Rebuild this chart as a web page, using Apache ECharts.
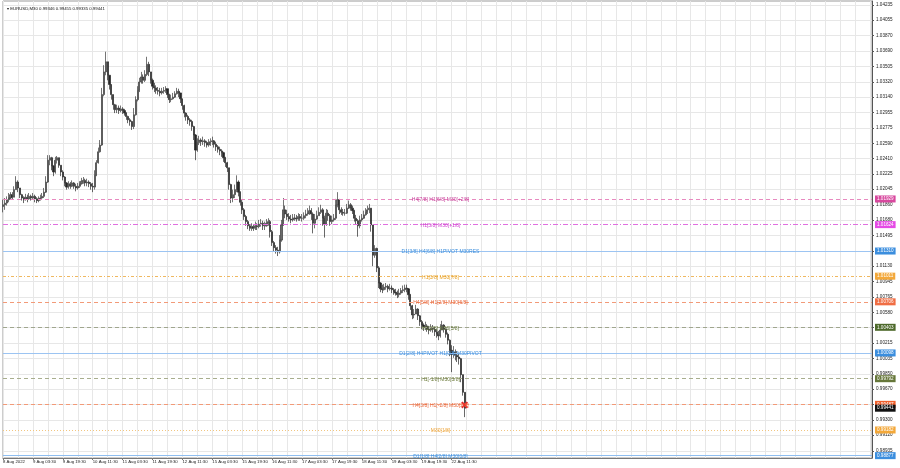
<!DOCTYPE html>
<html><head><meta charset="utf-8">
<script src="https://cdn.jsdelivr.net/npm/echarts@6/dist/echarts.min.js"></script>
<style>html,body{margin:0;padding:0;background:#fff}#c{width:900px;height:468px}</style>
</head><body><div id="c"></div>
<script>
// ---------- data ----------
const symbolName = 'EURUSD,M30';
const lastBarOHLC = [0.99346, 0.99455, 0.99335, 0.99441];
const xTickLabels = ['8 Aug 2022','9 Aug 03:30','9 Aug 19:30','10 Aug 11:30','11 Aug 03:30','11 Aug 19:30','12 Aug 11:30','15 Aug 03:30','15 Aug 19:30','16 Aug 11:30','17 Aug 03:30','17 Aug 19:30','18 Aug 11:30','19 Aug 03:30','19 Aug 19:30','22 Aug 11:30'];
const yTickValues = [1.04235,1.04055,1.03870,1.03690,1.03505,1.03320,1.03140,1.02955,1.02775,1.02590,1.02410,1.02225,1.02045,1.01860,1.01680,1.01495,1.01310,1.01130,1.00945,1.00765,1.00580,1.00400,1.00215,1.00035,0.99850,0.99670,0.99485,0.99300,0.99120,0.98935];
const firstOpen = 1.0184;
const closes = [
1.0186,1.0188,1.0192,1.0194,1.0198,1.0195,1.0204,1.0213,1.0206,1.0198,
1.0194,1.0192,1.0195,1.0193,1.0196,1.0194,1.0196,1.0193,1.0191,1.0193,
1.0194,1.0196,1.0201,1.0213,1.0239,1.0242,1.0232,1.0225,1.0239,1.0242,
1.0233,1.0225,1.0219,1.0212,1.0207,1.0211,1.0208,1.0212,1.0208,1.0206,
1.0208,1.0211,1.0214,1.0215,1.0212,1.0213,1.0211,1.0208,1.0207,1.0221,
1.0236,1.0249,1.0257,1.0317,1.0344,1.0356,1.0340,1.0329,1.0317,1.0305,
1.0299,1.0301,1.0298,1.0300,1.0298,1.0295,1.0291,1.0287,1.0285,1.0279,
1.0293,1.0311,1.0322,1.0332,1.0338,1.0334,1.0341,1.0353,1.0344,1.0334,
1.0327,1.0325,1.0322,1.0321,1.0319,1.0321,1.0322,1.0324,1.0317,1.0311,
1.0312,1.0314,1.0318,1.0321,1.0319,1.0312,1.0304,1.0295,1.0291,1.0287,
1.0285,1.0279,1.0269,1.0251,1.0260,1.0263,1.0261,1.0262,1.0260,1.0257,
1.0260,1.0261,1.0262,1.0258,1.0255,1.0252,1.0250,1.0248,1.0242,1.0236,
1.0230,1.0210,1.0194,1.0198,1.0204,1.0213,1.0201,1.0189,1.0180,1.0172,
1.0166,1.0161,1.0158,1.0160,1.0158,1.0161,1.0160,1.0163,1.0164,1.0161,
1.0161,1.0164,1.0166,1.0154,1.0141,1.0135,1.0132,1.0130,1.0144,1.0162,
1.0180,1.0175,1.0172,1.0169,1.0168,1.0170,1.0170,1.0169,1.0172,1.0170,
1.0170,1.0173,1.0175,1.0176,1.0179,1.0175,1.0164,1.0169,1.0173,1.0177,
1.0180,1.0170,1.0163,1.0176,1.0173,1.0166,1.0168,1.0170,1.0186,1.0192,
1.0180,1.0177,1.0176,1.0176,1.0182,1.0186,1.0182,1.0179,1.0170,1.0167,
1.0161,1.0168,1.0170,1.0174,1.0177,1.0180,1.0182,1.0162,1.0126,1.0134,
1.0111,1.0093,1.0086,1.0085,1.0088,1.0089,1.0086,1.0087,1.0085,1.0082,
1.0081,1.0079,1.0081,1.0084,1.0085,1.0087,1.0086,1.0079,1.0066,1.0055,
1.0056,1.0062,1.0054,1.0047,1.0043,1.0041,1.0042,1.0038,1.0037,1.0039,
1.0038,1.0035,1.0032,1.0030,1.0037,1.0043,1.0038,1.0032,1.0025,1.0013,
1.0008,1.0011,1.0007,1.0005,1.0003,0.9984,0.9963,0.99441];
const highs = [
1.0192,1.0194,1.0196,1.0200,1.0201,1.0201,1.0208,1.0220,1.0215,1.0206,
1.0199,1.0196,1.0199,1.0198,1.0200,1.0198,1.0200,1.0198,1.0195,1.0196,
1.0198,1.0200,1.0206,1.0220,1.0245,1.0245,1.0243,1.0233,1.0243,1.0244,
1.0242,1.0233,1.0227,1.0220,1.0213,1.0214,1.0213,1.0215,1.0213,1.0211,
1.0212,1.0214,1.0218,1.0219,1.0217,1.0217,1.0215,1.0213,1.0212,1.0227,
1.0239,1.0254,1.0263,1.0325,1.0352,1.0368,1.0353,1.0339,1.0327,1.0317,
1.0306,1.0305,1.0304,1.0304,1.0302,1.0300,1.0296,1.0292,1.0289,1.0286,
1.0301,1.0315,1.0327,1.0337,1.0344,1.0341,1.0346,1.0362,1.0356,1.0344,
1.0336,1.0331,1.0328,1.0326,1.0325,1.0325,1.0326,1.0327,1.0324,1.0318,
1.0317,1.0319,1.0321,1.0325,1.0324,1.0319,1.0312,1.0305,1.0296,1.0293,
1.0289,1.0287,1.0280,1.0270,1.0265,1.0268,1.0265,1.0267,1.0264,1.0262,
1.0264,1.0265,1.0267,1.0263,1.0261,1.0257,1.0255,1.0252,1.0249,1.0243,
1.0237,1.0230,1.0211,1.0204,1.0210,1.0221,1.0215,1.0202,1.0192,1.0182,
1.0174,1.0168,1.0163,1.0164,1.0163,1.0166,1.0164,1.0168,1.0169,1.0167,
1.0166,1.0169,1.0170,1.0168,1.0156,1.0143,1.0138,1.0136,1.0150,1.0168,
1.0194,1.0185,1.0180,1.0176,1.0174,1.0175,1.0175,1.0174,1.0176,1.0175,
1.0175,1.0177,1.0180,1.0182,1.0185,1.0182,1.0177,1.0175,1.0179,1.0183,
1.0186,1.0182,1.0173,1.0181,1.0180,1.0175,1.0173,1.0175,1.0193,1.0201,
1.0193,1.0183,1.0181,1.0181,1.0187,1.0191,1.0188,1.0185,1.0180,1.0174,
1.0169,1.0173,1.0175,1.0179,1.0182,1.0185,1.0187,1.0182,1.0162,1.0138,
1.0135,1.0113,1.0094,1.0091,1.0092,1.0093,1.0091,1.0092,1.0090,1.0087,
1.0086,1.0084,1.0086,1.0087,1.0090,1.0091,1.0091,1.0087,1.0080,1.0067,
1.0062,1.0067,1.0063,1.0055,1.0049,1.0045,1.0047,1.0044,1.0042,1.0044,
1.0043,1.0041,1.0038,1.0036,1.0044,1.0048,1.0044,1.0039,1.0034,1.0026,
1.0019,1.0018,1.0014,1.0012,1.0010,1.0004,0.9984,0.99455];
const lows = [
1.0177,1.0180,1.0185,1.0189,1.0192,1.0192,1.0195,1.0204,1.0201,1.0194,
1.0191,1.0188,1.0191,1.0189,1.0192,1.0191,1.0193,1.0189,1.0188,1.0189,
1.0191,1.0193,1.0194,1.0200,1.0212,1.0233,1.0227,1.0220,1.0223,1.0235,
1.0230,1.0220,1.0215,1.0208,1.0204,1.0205,1.0205,1.0207,1.0205,1.0202,
1.0204,1.0206,1.0210,1.0211,1.0208,1.0208,1.0207,1.0204,1.0201,1.0204,
1.0220,1.0235,1.0248,1.0256,1.0315,1.0340,1.0334,1.0323,1.0311,1.0299,
1.0295,1.0295,1.0294,1.0296,1.0294,1.0292,1.0287,1.0283,1.0280,1.0275,
1.0276,1.0292,1.0309,1.0320,1.0330,1.0330,1.0332,1.0339,1.0339,1.0330,
1.0323,1.0320,1.0318,1.0317,1.0315,1.0317,1.0318,1.0319,1.0313,1.0307,
1.0308,1.0311,1.0313,1.0317,1.0314,1.0307,1.0299,1.0290,1.0286,1.0282,
1.0280,1.0274,1.0263,1.0239,1.0249,1.0257,1.0256,1.0257,1.0255,1.0254,
1.0255,1.0256,1.0257,1.0254,1.0250,1.0248,1.0245,1.0243,1.0237,1.0231,
1.0225,1.0204,1.0188,1.0189,1.0194,1.0201,1.0196,1.0185,1.0175,1.0168,
1.0161,1.0157,1.0155,1.0155,1.0155,1.0156,1.0156,1.0158,1.0160,1.0156,
1.0156,1.0160,1.0161,1.0147,1.0137,1.0130,1.0128,1.0125,1.0128,1.0142,
1.0161,1.0170,1.0168,1.0166,1.0164,1.0166,1.0167,1.0166,1.0167,1.0167,
1.0166,1.0168,1.0170,1.0173,1.0174,1.0168,1.0152,1.0158,1.0168,1.0173,
1.0175,1.0161,1.0147,1.0161,1.0167,1.0161,1.0163,1.0166,1.0168,1.0183,
1.0175,1.0174,1.0173,1.0173,1.0175,1.0181,1.0179,1.0175,1.0166,1.0162,
1.0148,1.0158,1.0166,1.0169,1.0173,1.0175,1.0176,1.0154,1.0113,1.0123,
1.0106,1.0087,1.0082,1.0081,1.0084,1.0085,1.0082,1.0084,1.0081,1.0079,
1.0078,1.0075,1.0076,1.0079,1.0081,1.0082,1.0082,1.0073,1.0061,1.0050,
1.0051,1.0056,1.0049,1.0042,1.0038,1.0036,1.0037,1.0035,1.0032,1.0035,
1.0034,1.0030,1.0028,1.0025,1.0028,1.0037,1.0034,1.0028,1.0020,1.0006,
0.9987,1.0004,1.0001,0.9999,0.9996,0.9975,0.9959,0.99335];
const levelValues = [1.01929,1.01624,1.01310,1.01011,1.00706,1.00403,1.00098,0.99792,0.99487,0.99182,0.98877];
const levelTexts = ['H4[7/8] H1[6/8] M30[+2/8]','H1[5/8] M30[+1/8]','D1[3/8] H4[6/8] H1PIVOT M30RES','H1[3/8] M30[7/8]','H4[5/8] H1[2/8] M30[6/8]','H1[1/8] M30[5/8]','D1[2/8] H4PIVOT H1[0/8] M30PIVOT','H1[-1/8] M30[3/8]','H4[3/8] H1[-2/8] M30[2/8]','M30[1/8]','D1[1/8] H4[2/8] M30[0/8]'];
const bidPrice = 0.99441;
const signalPrice = 0.99480;
const slotCount = 466;

// ---------- styles ----------
const levelStyles = [
 {line:'#e88ac0', type:[4,3], text:'#c8409a', box:'#d8489e'},
 {line:'#e070e0', type:[5,2,1,2], text:'#d040d0', box:'#e54be5'},
 {line:'#9cc4f2', type:'solid', text:'#3d8fdc', box:'#3b8ede'},
 {line:'#f0b860', type:[3,2,1,2], text:'#e8a020', box:'#f3a83a'},
 {line:'#f29a78', type:[4,3], text:'#e8683c', box:'#f06e44'},
 {line:'#a0a68e', type:[4,3], text:'#5f7234', box:'#4e6a2c'},
 {line:'#9cc4f2', type:'solid', text:'#3d8fdc', box:'#3b8ede'},
 {line:'#a8ae8e', type:[4,3], text:'#6b7a3a', box:'#66773a'},
 {line:'#f29a78', type:[4,3], text:'#e8683c', box:'#f0602c'},
 {line:'#f3c680', type:[1,2], text:'#eda43a', box:'#f3a83a'},
 {line:'#8fbef0', type:'solid', text:'#3d8fdc', box:'#3b8ede'}
];
const FONT = '"Liberation Sans", Arial, sans-serif';

// ---------- build ----------
const categories = Array.from({length: slotCount}, (_, i) => i);
const candles = closes.map((c, i) => {
  const o = i === 0 ? firstOpen : closes[i - 1];
  return [o, c, Math.min(lows[i], o, c), Math.max(highs[i], o, c)];
});

const markLines = levelValues.map((v, i) => ({
  yAxis: v,
  lineStyle: {color: levelStyles[i].line, type: levelStyles[i].type, width: 1},
  label: {show: true, position: 'middle', formatter: levelTexts[i], color: levelStyles[i].text,
          fontSize: 5, fontFamily: FONT, verticalAlign: 'middle', distance: 0, offset: [3, 1]}
}));
const boxLabel = (v, bg) => ({
  yAxis: v,
  lineStyle: {color: 'rgba(0,0,0,0)', width: 1, opacity: 1},
  label: {show: true, position: 'end', formatter: v.toFixed(5), backgroundColor: bg, opacity: 1,
          color: '#ffffff', fontSize: 4.6, fontFamily: FONT, padding: [1, 2, 1, 2], distance: 3}
});
levelValues.forEach((v, i) => markLines.push(boxLabel(v, levelStyles[i].box)));
markLines.push(boxLabel(bidPrice, '#111111'));

const chart = echarts.init(document.getElementById('c'), null, {renderer: 'canvas'});
chart.setOption({
  animation: false,
  backgroundColor: '#ffffff',
  title: {
    text: '\u25BE ' + symbolName + ' ' + lastBarOHLC.map(v => v.toFixed(5)).join(' '),
    left: 2, top: 2,
    textStyle: {fontSize: 4.3, fontWeight: 'normal', color: '#111', fontFamily: FONT}
  },
  grid: {left: 0, right: 28, top: 1, bottom: 10, show: true, borderColor: '#9a9a9a', borderWidth: 1},
  xAxis: {
    type: 'category', data: categories, boundaryGap: false,
    axisLine: {show: true, lineStyle: {color: '#777', width: 1}},
    axisTick: {show: true, length: 2, interval: (i) => i % 16 === 0 && i / 16 < xTickLabels.length, lineStyle: {color: '#777'}},
    axisLabel: {
      show: true, fontSize: 4.3, fontFamily: FONT, color: '#222', margin: 2, align: 'left',
      interval: (i) => i % 16 === 0 && i / 16 < xTickLabels.length,
      formatter: (v) => { const k = Number(v) / 16; return xTickLabels[k] || ''; }
    },
    splitLine: {show: true, interval: (i) => i % 8 === 0, lineStyle: {color: '#e7e7e7', width: 1}}
  },
  yAxis: {
    type: 'value', position: 'right', scale: true,
    min: 0.98849, max: 1.04283,
    axisLine: {show: true, lineStyle: {color: '#555', width: 1}},
    axisTick: {show: true, length: 2, customValues: yTickValues, lineStyle: {color: '#555'}},
    axisLabel: {show: true, customValues: yTickValues, fontSize: 4.6, fontFamily: FONT, color: '#222', margin: 4,
                formatter: (v) => Number(v).toFixed(5)},
    splitLine: {show: true, lineStyle: {color: '#e7e7e7', width: 1}}
  },
  series: [
    {
      type: 'candlestick', data: candles, barWidth: 1.6, clip: false,
      itemStyle: {color: '#6a6a6a', color0: '#262626', borderColor: '#3a3a3a', borderColor0: '#262626', borderWidth: 0.7},
      markLine: {silent: true, symbol: ['none', 'none'], precision: 5, animation: false, data: markLines},
      markPoint: {
        silent: true, animation: false,
        data: [{coord: [closes.length - 1, signalPrice],
                symbol: 'path://M0,2L2,0L5,3L8,0L10,2L7,5L10,8L8,10L5,7L2,10L0,8L3,5Z',
                symbolSize: 7, itemStyle: {color: '#e8262a'}, label: {show: false}}]
      }
    }
  ]
});
</script>
</body></html>
